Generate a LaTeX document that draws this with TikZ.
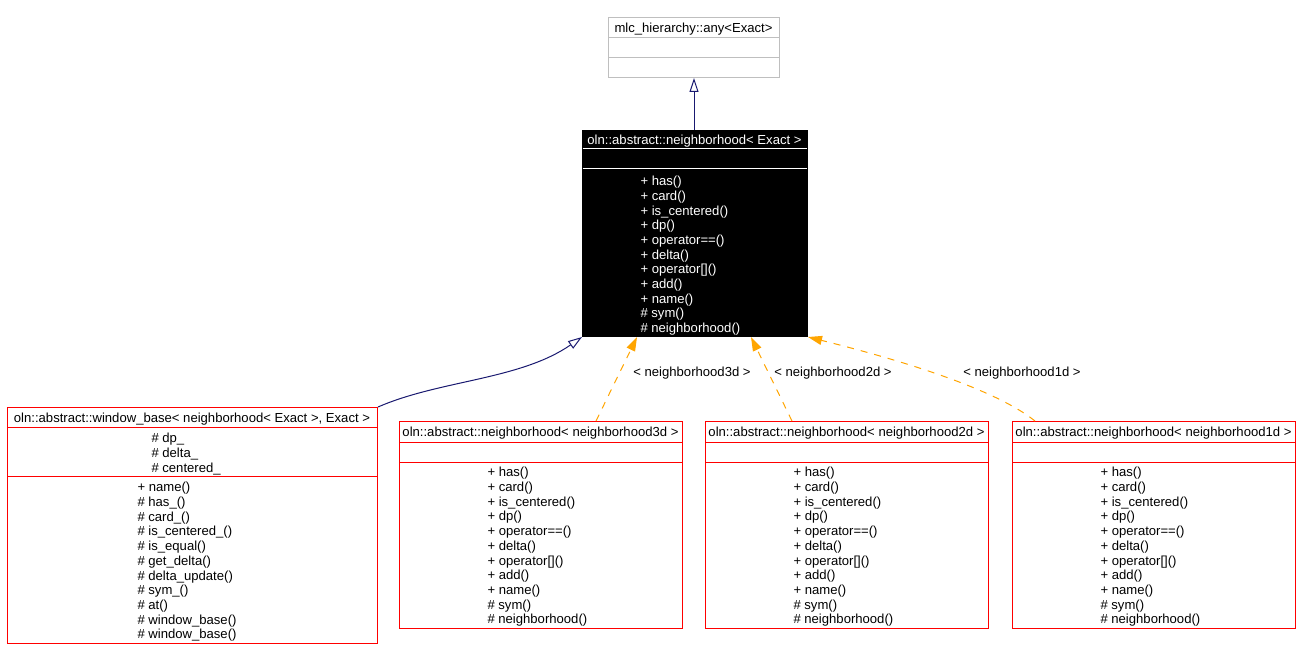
\documentclass[tikz,border=0pt]{standalone}
\usepackage{fontspec}
\setmainfont{Liberation Sans}
\usetikzlibrary{arrows.meta,calc}
\definecolor{navy}{HTML}{191970}
\definecolor{dorange}{HTML}{FFA500}
\definecolor{boxgray}{HTML}{BFBFBF}
\begin{document}
\begin{tikzpicture}[x=1pt,y=-1pt,line width=1pt,
  every node/.style={font=\fontsize{13.1}{15}\selectfont,inner sep=0pt,text height=12.4pt,text depth=2.7pt},
  umlbox/.style={draw=red,anchor=north west,minimum width=#1,text height=,text depth=},
  mline/.style={anchor=west},
  inherit/.style={navy,-{Triangle[open,length=14pt,width=9pt]}},
  tmpl/.style={dorange,dash pattern=on 7pt off 7pt,-{Triangle[length=14pt,width=9pt]}}]
\fill[white] (0,0) rectangle (1300,660);
\useasboundingbox (0,0) rectangle (1300,660);
% top class
\node[umlbox=171pt,draw=boxgray,minimum height=60pt] (any) at (608,17) {};
\node (anyT) at (693.5,28) {mlc\_hierarchy::any<Exact>};
\draw[boxgray] (any.north west |- 0,38) -- (any.north east |- 0,38);
\draw[boxgray] (any.north west |- 0,58) -- (any.north east |- 0,58);
% central class
\node[umlbox=225pt,draw=black,fill=black,minimum height=206pt] (nb) at (582,130) {};
\node[white] (nbT) at (694.5,140) {oln::abstract::neighborhood< Exact >};
\draw[white] (582.5,149) -- (806.5,149);
\draw[white] (582.5,169) -- (806.5,169);
\foreach \t [count=\i from 0] in {+ has(),+ card(),+ is\_centered(),+ dp(),+ operator==(),+ delta(),+ operator[](),+ add(),+ name(),\# sym(),\# neighborhood()}
  \node[mline,white] (nbm\i) at (640,181+14.65*\i) {\t};
% window_base
\node[umlbox=370pt,minimum height=236pt] (wb) at (7,407) {};
\node (wbT) at (192,418) {oln::abstract::window\_base< neighborhood< Exact >, Exact >};
\draw[red] (7,427) -- (377,427);
\draw[red] (7,476) -- (377,476);
\foreach \t [count=\i from 0] in {\# dp\_,\# delta\_,\# centered\_}
  \node[mline] (wba\i) at (151,438+14.6*\i) {\t};
\foreach \t [count=\i from 0] in {+ name(),\# has\_(),\# card\_(),\# is\_centered\_(),\# is\_equal(),\# get\_delta(),\# delta\_update(),\# sym\_(),\# at(),\# window\_base(),\# window\_base()}
  \node[mline] (wbm\i) at (137,487+14.7*\i) {\t};
% three concrete neighborhoods
\foreach \n/\x/\d in {n3/399/3d,n2/705/2d,n1/1012/1d}{
  \node[umlbox=283pt,minimum height=207pt] (\n) at (\x,421) {};
  \node (\n T) at (\x+141.5,432) {oln::abstract::neighborhood< neighborhood\d\space>};
  \draw[red] (\x,442) -- (\x+283,442);
  \draw[red] (\x,462) -- (\x+283,462);
  \foreach \t [count=\i from 0] in {+ has(),+ card(),+ is\_centered(),+ dp(),+ operator==(),+ delta(),+ operator[](),+ add(),+ name(),\# sym(),\# neighborhood()}
    \node[mline] (\n m\i) at (\x+88,472+14.7*\i) {\t};
}
% connectors
\draw[inherit] (any.south |- nb.north) -- (any.south);
\draw[inherit] (wb.north east) .. controls (440,380) and (520,380) .. (nb.south west);
\coordinate (s3) at ($(n3.north west)+(197,0)$);
\coordinate (e3) at ($(nb.south west)+(55,0)$);
\coordinate (s2) at ($(n2.north west)+(87,0)$);
\coordinate (e2) at ($(nb.south west)+(169,0)$);
\coordinate (s1) at ($(n1.north west)+(23,0)$);
\draw[tmpl] (s3) -- (e3);
\draw[tmpl] (s2) -- (e2);
\draw[tmpl] (s1) .. controls (990,385) and (880,355) .. (nb.south east);
\node (l3) at (692,372) {< neighborhood3d >};
\node (l2) at (833,372) {< neighborhood2d >};
\node (l1) at (1022,372) {< neighborhood1d >};
\end{tikzpicture}
\end{document}
